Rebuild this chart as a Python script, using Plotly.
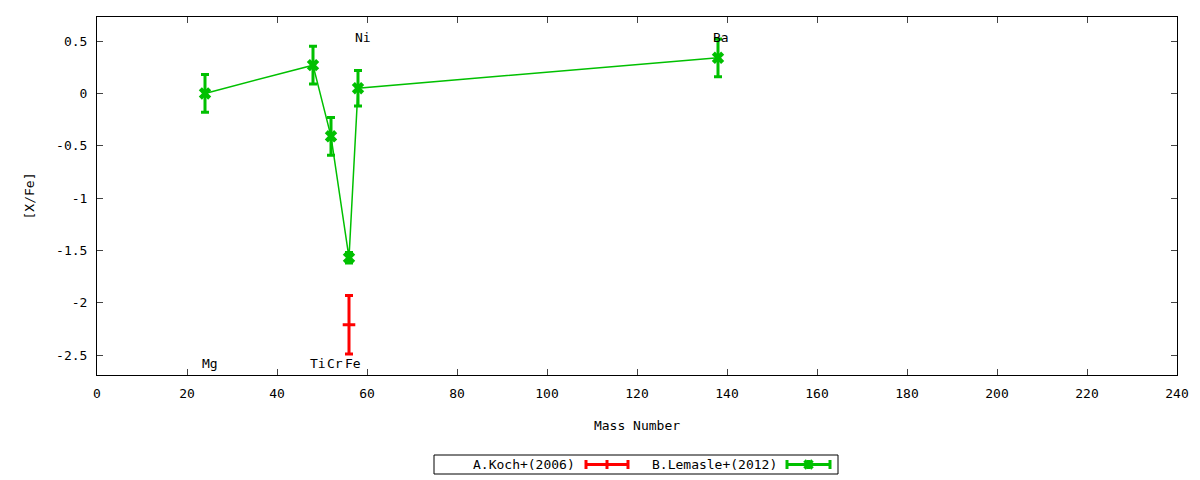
import plotly.graph_objects as go

# B.Lemasle+(2012)
lem_mass = [24, 48, 52, 56, 58, 138]
lem_xfe = [0.0, 0.27, -0.41, -1.57, 0.05, 0.34]
lem_err = [0.18, 0.18, 0.18, 0.05, 0.17, 0.18]

# A.Koch+(2006)
koch_mass = [56]
koch_xfe = [-2.21]
koch_err = [0.28]

# element labels
elem_names = ['Mg', 'Ti', 'Cr', 'Fe', 'Ni', 'Ba']
elem_mass = [23.3, 47.3, 51.05, 55.05, 57.3, 136.8]
elem_ypos = [-2.58, -2.58, -2.58, -2.58, 0.53, 0.53]

x_ticks = list(range(0, 241, 20))
y_ticks = [0.5, 0, -0.5, -1, -1.5, -2, -2.5]
y_ticktext = ['0.5', '0', '-0.5', '-1', '-1.5', '-2', '-2.5']

red = '#ff0000'
green = '#00c000'
font = dict(family='DejaVu Sans Mono', size=13, color='black')

fig = go.Figure()

fig.add_trace(go.Scatter(
    x=koch_mass, y=koch_xfe, mode='markers', name='A.Koch+(2006)',
    marker=dict(symbol='line-ew', size=9, line=dict(color=red, width=3)),
    error_y=dict(type='data', array=koch_err, color=red, thickness=3, width=4),
    showlegend=False,
))

fig.add_trace(go.Scatter(
    x=lem_mass, y=lem_xfe, mode='lines+markers', name='B.Lemasle+(2012)',
    line=dict(color=green, width=1.5),
    marker=dict(symbol='x', size=11, color=green),
    error_y=dict(type='data', array=lem_err, color=green, thickness=3, width=4),
    showlegend=False,
))

for name, m, yv in zip(elem_names, elem_mass, elem_ypos):
    fig.add_annotation(x=m, y=yv, text=name, showarrow=False, xanchor='left',
                       xshift=-2, font=font)

# gnuplot style legend box below the plot (positions in window pixels)
L, T, W, H = 97, 17, 1080, 358


def px(x):
    return (x - L) / W


def py(y):
    return (T + H - y) / H


shapes = [dict(type='rect', xref='paper', yref='paper', x0=px(434), x1=px(838),
               y0=py(474), y1=py(455), line=dict(color='black', width=1))]
for x0, x1, c in [(586, 628, red), (787, 830, green)]:
    shapes.append(dict(type='line', xref='paper', yref='paper', x0=px(x0), x1=px(x1),
                       y0=py(464.5), y1=py(464.5), line=dict(color=c, width=3)))
    for xx in (x0, (x0 + x1) / 2, x1):
        shapes.append(dict(type='line', xref='paper', yref='paper', x0=px(xx), x1=px(xx),
                           y0=py(460), y1=py(469), line=dict(color=c, width=3)))
# the little cross marker on the green sample
cx, cy = 808.5, 464.5
for dy in (-4, 4):
    shapes.append(dict(type='line', xref='paper', yref='paper', x0=px(cx - 4), x1=px(cx + 4),
                       y0=py(cy - dy), y1=py(cy + dy), line=dict(color=green, width=3.5)))
fig.update_layout(shapes=shapes)
fig.add_annotation(xref='paper', yref='paper', x=px(577), y=py(464.5), text='A.Koch+(2006)',
                   xanchor='right', yanchor='middle', showarrow=False, font=font)
fig.add_annotation(xref='paper', yref='paper', x=px(779), y=py(464.5), text='B.Lemasle+(2012)',
                   xanchor='right', yanchor='middle', showarrow=False, font=font)

fig.update_layout(
    xaxis=dict(range=[0, 240], tickvals=x_ticks, ticks='inside', ticklen=6,
               ticklabelstandoff=6,
               showgrid=False, zeroline=False, showline=True, linecolor='black',
               mirror='allticks',
               title=dict(text='Mass Number', font=font, standoff=21),
               tickfont=font),
    yaxis=dict(range=[-2.69, 0.73], tickvals=y_ticks, ticktext=y_ticktext,
               ticks='inside', ticklen=6, ticklabelstandoff=6, showgrid=False,
               zeroline=False, showline=True, linecolor='black',
               mirror='allticks',
               title=dict(text='[X/Fe]', font=font, standoff=18),
               tickfont=font),
)

# page body has an 8px margin, so shrink the figure to keep the plot where it belongs
fig.update_layout(
    width=1192, height=472,
    margin=dict(l=89, r=23, t=9, b=105),
    plot_bgcolor='white', paper_bgcolor='white',
    font=font,
)

fig.write_html('out.html')
